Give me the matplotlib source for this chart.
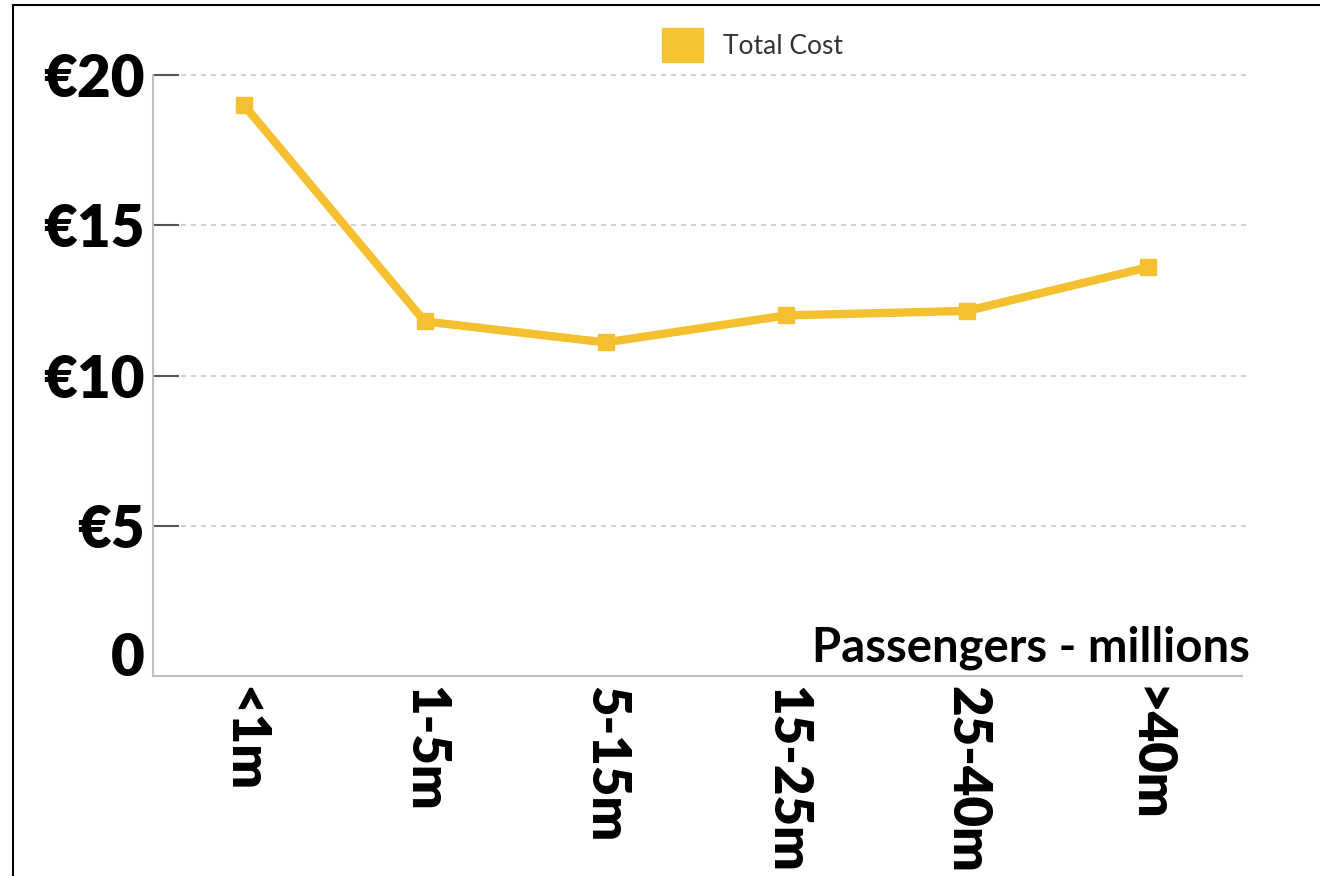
import matplotlib.pyplot as plt
from matplotlib.lines import Line2D
from matplotlib.patches import Patch

# cost per passenger by airport size
sizes = ['<1m', '1-5m', '5-15m', '15-25m', '25-40m', '>40m']
total_cost = [19.0, 11.8, 11.1, 12.0, 12.15, 13.6]
y_ticks = [0, 5, 10, 15, 20]
y_labels = ['0', '€5', '€10', '€15', '€20']

line_col = '#F4C030'
plt.rcParams['font.family'] = ['Lato', 'DejaVu Sans']

fig = plt.figure(figsize=(13.2, 8.76), dpi=100)
ax = fig.add_axes([153/1320, 1-676/876, (1242-153)/1320, (676-75)/876])

x = list(range(len(sizes)))
ax.plot(x, total_cost, color=line_col, lw=6, marker='s', markersize=11,
        solid_joinstyle='round', zorder=3)

ax.set_xlim(-0.503, 5.52)
ax.set_ylim(0, 20)

# dotted gridlines (none at zero)
for v in y_ticks[1:]:
    ax.plot([-0.35, 5.54], [v, v], color='#c8c8c8', lw=1.2, ls=(0, (3, 3)),
            zorder=1, clip_on=False)

ax.set_yticks(y_ticks)
ax.set_yticklabels(y_labels, fontsize=42, fontweight='heavy')
ax.tick_params(axis='y', direction='in', length=19, width=1.5, color='#555555', pad=6)
ax.yaxis.get_major_ticks()[0].tick1line.set_visible(False)
ax.get_yticklabels()[0].set_va('baseline')

ax.set_xticks(x)
ax.set_xticklabels(sizes, fontsize=38, fontweight='heavy', rotation=270)
ax.tick_params(axis='x', length=0, pad=7)

for s in ['top', 'right']:
    ax.spines[s].set_visible(False)
for s in ['left', 'bottom']:
    ax.spines[s].set_color('#c0c0c0')
    ax.spines[s].set_linewidth(1.5)

fig.text(1250/1320, 1-662/876, 'Passengers - millions', fontsize=34,
         fontweight='bold', ha='right', va='baseline')

fig.legend(handles=[Patch(color='#F6C332', label='Total Cost')],
           loc='center left', bbox_to_anchor=(662/1320, 1-45/876),
           frameon=False, fontsize=19, handlelength=1.55, handleheight=1.55,
           handletextpad=0.75, borderpad=0, borderaxespad=0, labelcolor='#333333')

# frame lines from the screenshot
fig.add_artist(Line2D([13/1320, 13/1320], [0, 1-5/876], color='black', lw=1.5))
fig.add_artist(Line2D([13/1320, 1], [1-5/876, 1-5/876], color='black', lw=1.5))

fig.savefig('out.png', dpi=100)
